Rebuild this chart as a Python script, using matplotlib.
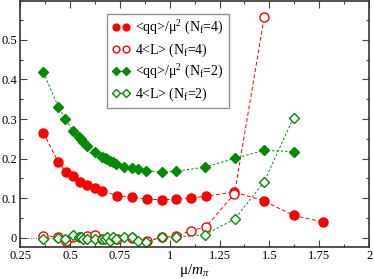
import numpy as np
import matplotlib
matplotlib.use("Agg")
import matplotlib.pyplot as plt
from matplotlib.ticker import MultipleLocator

plt.rcParams['font.family'] = ['Liberation Serif', 'DejaVu Serif']
plt.rcParams['mathtext.fontset'] = 'custom'
plt.rcParams['mathtext.rm'] = 'Liberation Serif'
plt.rcParams['mathtext.it'] = 'Liberation Serif:italic'

# <qq>/mu^2, Nf=4
mu_qq4 = [0.367, 0.442, 0.479, 0.517, 0.551, 0.588, 0.626, 0.663, 0.735, 0.810,
          0.885, 0.960, 1.032, 1.106, 1.180, 1.325, 1.474, 1.621, 1.768]
qq4 = [0.266, 0.191, 0.167, 0.157, 0.140, 0.133, 0.125, 0.119, 0.107, 0.103,
       0.098, 0.096, 0.098, 0.101, 0.105, 0.116, 0.093, 0.057, 0.040]

# 4<L>, Nf=4
mu_L4 = [0.367, 0.442, 0.479, 0.517, 0.551, 0.588, 0.626, 0.663, 0.735, 0.810,
         0.885, 0.960, 1.032, 1.106, 1.180, 1.325, 1.474]
L4 = [0.006, 0.002, -0.007, 0.002, 0.003, 0.004, 0.007, -0.003, -0.003, -0.001,
      -0.008, 0.001, 0.004, 0.018, 0.027, 0.111, 0.557]

# <qq>/mu^2, Nf=2
mu_qq2 = [0.367, 0.442, 0.477, 0.514, 0.548, 0.556, 0.567, 0.588, 0.626, 0.660,
          0.676, 0.687, 0.700, 0.715, 0.731, 0.773, 0.810, 0.843, 0.882, 0.960,
          1.030, 1.178, 1.327, 1.474, 1.621]
qq2 = [0.418, 0.331, 0.300, 0.271, 0.254, 0.249, 0.243, 0.233, 0.218, 0.205,
       0.202, 0.199, 0.195, 0.192, 0.187, 0.180, 0.176, 0.173, 0.170, 0.166,
       0.168, 0.179, 0.201, 0.221, 0.218]

# 4<L>, Nf=2
mu_L2 = mu_qq2
L2 = [-0.003, 0.000, -0.003, 0.008, 0.003, 0.001, -0.002, -0.003, -0.004, -0.004,
      -0.002, 0.002, -0.007, 0.002, -0.004, 0.001, 0.001, -0.007, -0.010, 0.002,
      0.002, 0.008, 0.048, 0.142, 0.304]

red = '#ff0000'
green = '#008c00'

fig = plt.figure(figsize=(3.74, 2.79), dpi=100)
ax = fig.add_axes([0.0535, 0.1147, 0.9335, 0.88])

ax.plot([0.25, mu_qq4[0]], [0, 0], ':', color='#555555', lw=0.7)

ax.plot(mu_qq4, qq4, '--', color=red, lw=0.7, dashes=(4, 2.5),
        marker='o', ms=6.5, mfc=red, mec=red, label=r'<qq>/μ$^2$ (N$_\mathrm{f}$=4)')
ax.plot(mu_L4, L4, '--', color=red, lw=0.7, dashes=(4, 2.5),
        marker='o', ms=6.5, mfc='white', mec=red, mew=1.0, label=r'4<L> (N$_\mathrm{f}$=4)')
ax.plot(mu_qq2, qq2, '--', color=green, lw=0.7, dashes=(2.5, 2),
        marker='D', ms=5.5, mfc=green, mec=green, label=r'<qq>/μ$^2$ (N$_\mathrm{f}$=2)')
ax.plot(mu_L2, L2, '--', color=green, lw=0.7, dashes=(2.5, 2),
        marker='D', ms=5.5, mfc='white', mec=green, mew=1.0, label=r'4<L> (N$_\mathrm{f}$=2)')

ax.set_xlim(0.25, 2.0)
ax.set_ylim(-0.023, 0.597)
ax.xaxis.set_minor_locator(MultipleLocator(0.125))
ax.yaxis.set_minor_locator(MultipleLocator(0.05))
ax.set_xticks([0.25, 0.5, 0.75, 1.0, 1.25, 1.5, 1.75, 2.0])
ax.set_xticklabels(['0.25', '0.5', '0.75', '1', '1.25', '1.5', '1.75', '2'])
ax.set_yticks([0, 0.1, 0.2, 0.3, 0.4, 0.5])
ax.set_yticklabels(['0', '0.1', '0.2', '0.3', '0.4', '0.5'])
ax.tick_params(which='both', direction='in', top=True, right=True, labelsize=9,
               color='#444444', pad=2)
ax.tick_params(which='major', length=5, width=0.8)
ax.tick_params(which='minor', length=2.5, width=0.8)
for s in ax.spines.values():
    s.set_linewidth(1.2)
    s.set_color('#333333')

ax.set_xlabel(r'μ/$m_\pi$', fontsize=11)
ax.xaxis.set_label_coords(0.5, -0.063)

leg = ax.legend(loc='upper left', bbox_to_anchor=(0.249, 0.948), numpoints=2,
                fontsize=10, frameon=True, fancybox=False, handlelength=1.3,
                handletextpad=0.4, borderpad=0.35, labelspacing=0.3,
                markerscale=0.75, borderaxespad=0)
leg.get_frame().set_edgecolor('#777777')
leg.get_frame().set_linewidth(1.0)

fig.savefig('out.png', dpi=100)
